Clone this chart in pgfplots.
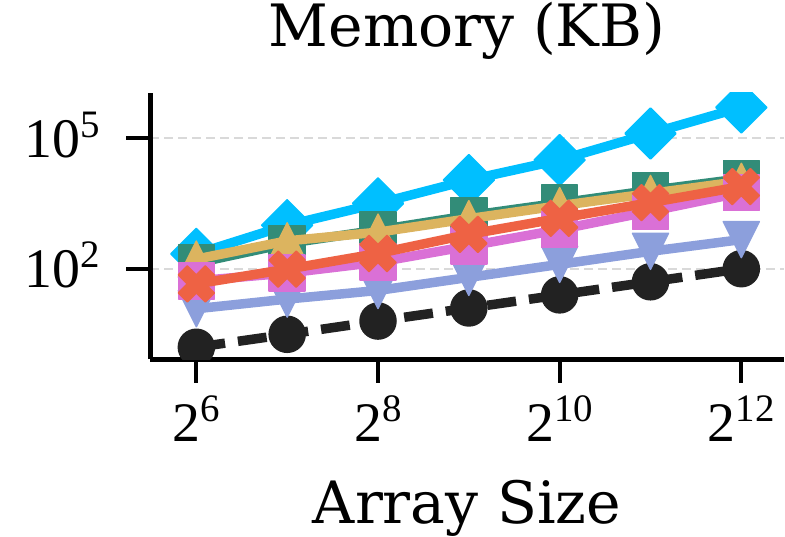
\documentclass[border=0pt]{standalone}
\usepackage{fontspec}
\setmainfont{DejaVu Serif}
\newfontfamily\tickfont{Liberation Serif}
\usepackage{pgfplots}
\pgfplotsset{compat=1.18}
\definecolor{cBlack}{HTML}{222222}
\definecolor{cLav}{HTML}{8C9FDC}
\definecolor{cCyan}{HTML}{00BFFF}
\definecolor{cTeal}{HTML}{328C78}
\definecolor{cGold}{HTML}{DCB45F}
\definecolor{cPink}{HTML}{DA70D6}
\definecolor{cRed}{HTML}{EE6244}
\pgfdeclareplotmark{mpltri}{%
  \pgfpathmoveto{\pgfqpoint{0pt}{\pgfplotmarksize}}%
  \pgfpathlineto{\pgfqpoint{-\pgfplotmarksize}{-\pgfplotmarksize}}%
  \pgfpathlineto{\pgfqpoint{\pgfplotmarksize}{-\pgfplotmarksize}}%
  \pgfpathclose\pgfusepathqfillstroke}
\pgfdeclareplotmark{mpltridown}{%
  \pgfpathmoveto{\pgfqpoint{0pt}{-\pgfplotmarksize}}%
  \pgfpathlineto{\pgfqpoint{-\pgfplotmarksize}{\pgfplotmarksize}}%
  \pgfpathlineto{\pgfqpoint{\pgfplotmarksize}{\pgfplotmarksize}}%
  \pgfpathclose\pgfusepathqfillstroke}
\pgfdeclareplotmark{mplX}{%
  \pgfpathmoveto{\pgfqpoint{-.5\pgfplotmarksize}{-\pgfplotmarksize}}%
  \pgfpathlineto{\pgfqpoint{0pt}{-.5\pgfplotmarksize}}%
  \pgfpathlineto{\pgfqpoint{.5\pgfplotmarksize}{-\pgfplotmarksize}}%
  \pgfpathlineto{\pgfqpoint{\pgfplotmarksize}{-.5\pgfplotmarksize}}%
  \pgfpathlineto{\pgfqpoint{.5\pgfplotmarksize}{0pt}}%
  \pgfpathlineto{\pgfqpoint{\pgfplotmarksize}{.5\pgfplotmarksize}}%
  \pgfpathlineto{\pgfqpoint{.5\pgfplotmarksize}{\pgfplotmarksize}}%
  \pgfpathlineto{\pgfqpoint{0pt}{.5\pgfplotmarksize}}%
  \pgfpathlineto{\pgfqpoint{-.5\pgfplotmarksize}{\pgfplotmarksize}}%
  \pgfpathlineto{\pgfqpoint{-\pgfplotmarksize}{.5\pgfplotmarksize}}%
  \pgfpathlineto{\pgfqpoint{-.5\pgfplotmarksize}{0pt}}%
  \pgfpathlineto{\pgfqpoint{-\pgfplotmarksize}{-.5\pgfplotmarksize}}%
  \pgfpathclose\pgfusepathqfillstroke}
\newcommand{\pw}[2]{#1\raisebox{0.36em}{\fontsize{39}{39}\selectfont #2}}
\begin{document}
\begin{tikzpicture}
\begin{axis}[
  at={(150bp,178bp)}, anchor=south west,
  scale only axis, width=634bp, height=266bp,
  xmode=log, ymode=log, log basis x=2, log basis y=10,
  xmin=44.94, xmax=5673, ymin=0.8375, ymax=1.1e6,
  axis x line*=bottom, axis y line*=left,
  axis line style={line width=5bp, black},
  x axis line style={-}, y axis line style={-},
  xtick={64,256,1024,4096},
  xticklabels={\pw{2}{6},\pw{2}{8},\pw{2}{10},\pw{2}{12}},
  ytick={100,100000},
  yticklabels={\pw{10}{2},\pw{10}{5}},
  minor tick num=0, xminorticks=false, yminorticks=false,
  tick align=outside, major tick length=24bp,
  major tick style={line width=4bp, black},
  xticklabel style={font=\tickfont\fontsize{56}{60}\selectfont, anchor=base, inner sep=0pt, yshift=-59bp},
  yticklabel style={font=\tickfont\fontsize{56}{60}\selectfont, anchor=base east, inner sep=0pt, xshift=-26bp, yshift=-19bp},
  ymajorgrids,
  major grid style={draw=black!15, line width=2bp, dash pattern=on 9bp off 5bp},
  title={Memory (KB)},
  title style={font=\fontsize{58.6}{64}\selectfont, at={(axis description cs:0.5,1)}, anchor=base, yshift=41bp},
  xlabel={Array Size},
  xlabel style={font=\fontsize{58.6}{64}\selectfont, at={(axis description cs:0.5,0)}, anchor=base, yshift=-164bp},
  clip marker paths=true,
  every axis plot/.append style={line width=9.5bp, line join=round},
]
\addplot[cBlack, dash pattern=on 29bp off 13bp, mark=*, mark size=18bp, mark options={solid, fill=cBlack, draw=cBlack, line width=1.5bp}]
  coordinates {(64,1.56) (128,3.1) (256,6.25) (512,12.5) (1024,25) (2048,50) (4096,100)};
\addplot[cLav, mark=mpltridown, mark size=18bp, mark options={fill=cLav, draw=cLav, line width=1.5bp}]
  coordinates {(64,12.0) (128,20.0) (256,31.6) (512,63.1) (1024,125.9) (2048,251.2) (4096,467.7)};
\addplot[cCyan, mark=square*, mark size=18bp, mark options={rotate=45, fill=cCyan, draw=cCyan, line width=1.5bp}]
  coordinates {(64,218.8) (128,1000) (256,3162) (512,10965) (1024,31623) (2048,128825) (4096,512861)};
\addplot[cTeal, mark=square*, mark size=18bp, mark options={fill=cTeal, draw=cTeal, line width=1.5bp}]
  coordinates {(64,134.9) (128,380.2) (256,776.2) (512,1659.6) (1024,3236) (2048,6310) (4096,11749)};
\addplot[cGold, mark=mpltri, mark size=18bp, mark options={fill=cGold, draw=cGold, line width=1.5bp}]
  coordinates {(64,166) (128,436.5) (256,691.8) (512,1412.5) (1024,2818) (2048,5370) (4096,10233)};
\addplot[cPink, mark=square*, mark size=18bp, mark options={fill=cPink, draw=cPink, line width=1.5bp}]
  coordinates {(64,52.5) (128,79.4) (256,141.3) (512,331.1) (1024,794.3) (2048,2089) (4096,5623)};
\addplot[cRed, mark=mplX, mark size=18bp, mark options={fill=cRed, draw=cRed, line width=1.5bp}]
  coordinates {(64,44.7) (128,97.7) (256,223.9) (512,616.6) (1024,1445) (2048,3311) (4096,7762)};
\end{axis}
\pgfresetboundingbox
\path[use as bounding box] (0,0) rectangle (785bp,537bp);
\end{tikzpicture}
\end{document}
